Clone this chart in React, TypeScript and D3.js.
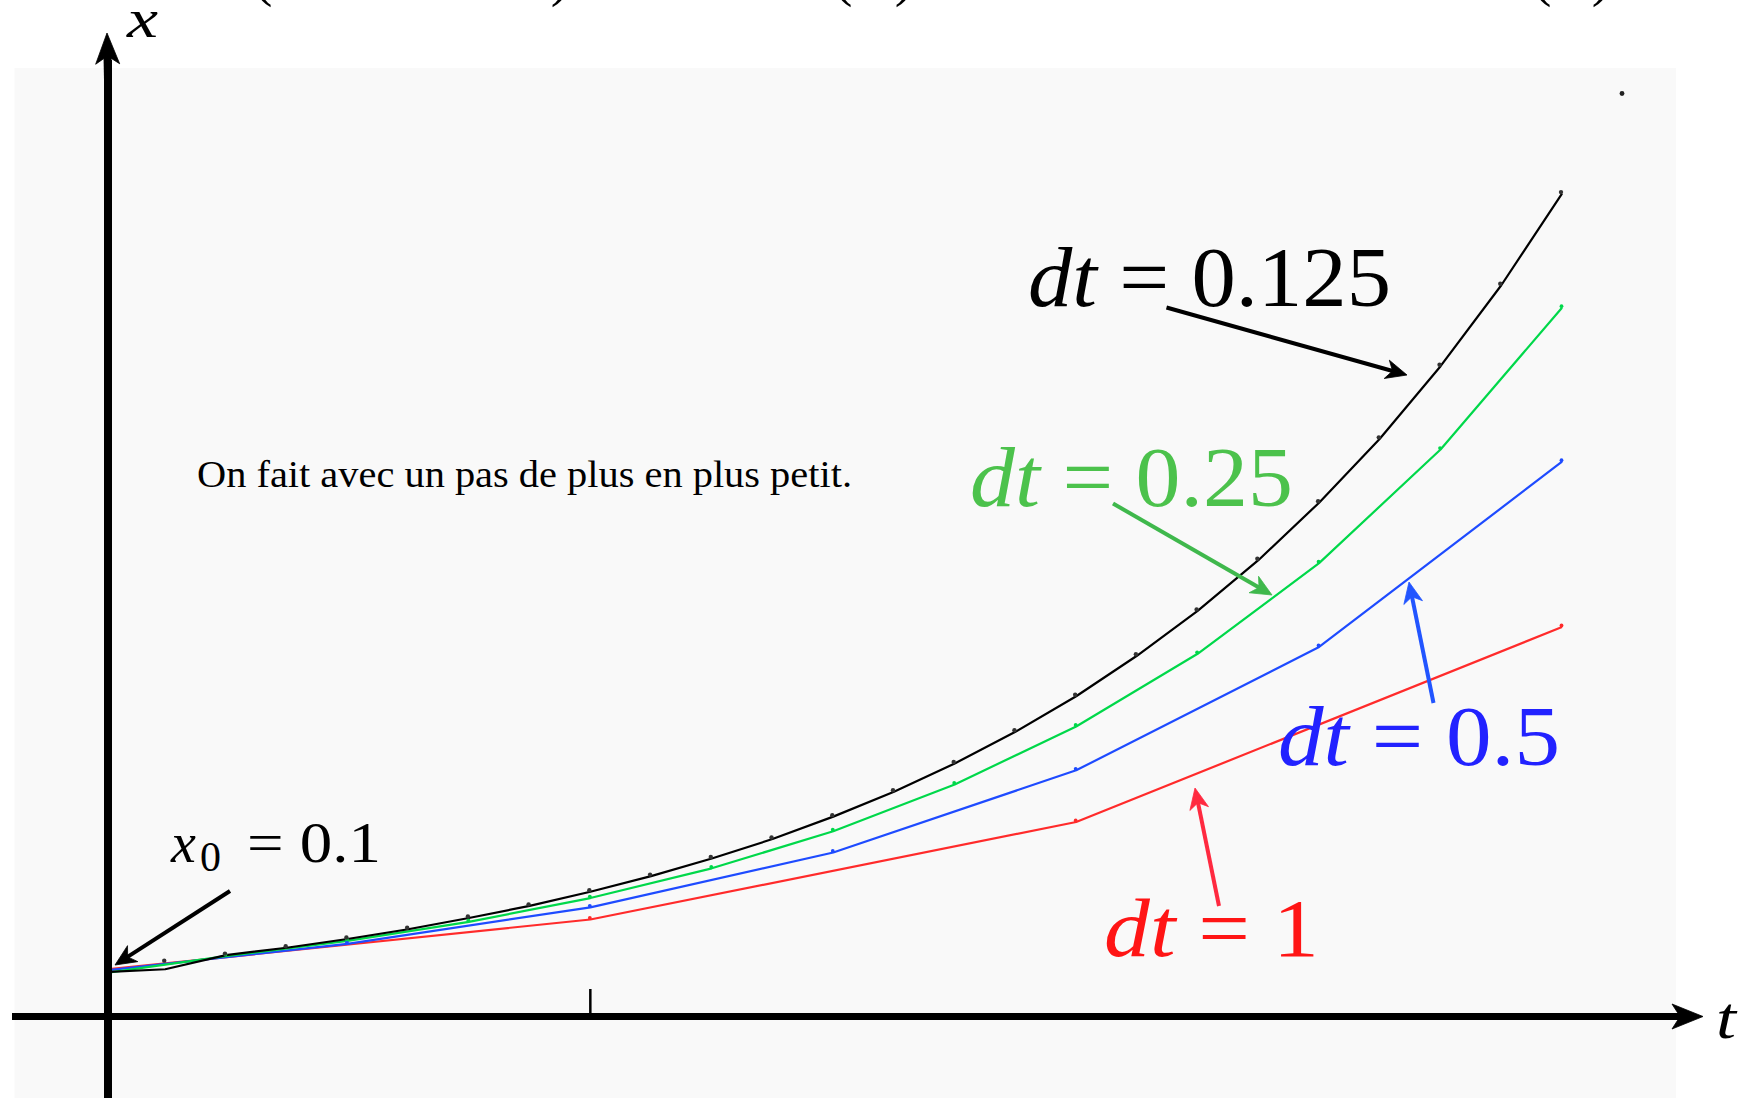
import React from 'react';
import * as d3 from 'd3';

// ---- data ----
const tBlack = [0, 0.125, 0.25, 0.375, 0.5, 0.625, 0.75, 0.875, 1, 1.125, 1.25, 1.375, 1.5, 1.625, 1.75, 1.875, 2, 2.125, 2.25, 2.375, 2.5, 2.625, 2.75, 2.875, 3];
const xBlackDots = [0.1, 0.1125, 0.127, 0.142, 0.16, 0.18, 0.203, 0.228, 0.257, 0.289, 0.325, 0.365, 0.411, 0.462, 0.52, 0.585, 0.658, 0.741, 0.833, 0.937, 1.055, 1.186, 1.335, 1.501, 1.689];
const xBlackLine = [0.092, 0.098, 0.127, 0.142, 0.16, 0.18, 0.203, 0.228, 0.257, 0.289, 0.325, 0.365, 0.411, 0.462, 0.52, 0.585, 0.658, 0.741, 0.833, 0.937, 1.055, 1.186, 1.335, 1.501, 1.689];
const tGreen = [0, 0.25, 0.5, 0.75, 1, 1.25, 1.5, 1.75, 2, 2.25, 2.5, 2.75, 3];
const xGreen = [0.09, 0.125, 0.156, 0.195, 0.244, 0.305, 0.381, 0.477, 0.596, 0.745, 0.931, 1.164, 1.455];
const tBlue = [0, 0.5, 1, 1.5, 2, 2.5, 3];
const xBlue = [0.095, 0.15, 0.225, 0.3375, 0.506, 0.759, 1.139];
const tRed = [0, 1, 2, 3];
const xRed = [0.097, 0.2, 0.4, 0.8];
const tTicks = [1];

const W = 1742;
const H = 1098;
const FONT = '"Liberation Serif", "Times New Roman", serif';

const xs = d3.scaleLinear().domain([0, 3]).range([104.5, 1562]);
const ys = d3.scaleLinear().domain([0, 1]).range([1017, 529.5]);

const line = d3
  .line<[number, number]>()
  .x((d) => xs(d[0]))
  .y((d) => ys(d[1]));

function zip(a: number[], b: number[]): [number, number][] {
  return a.map((v, i) => [v, b[i]] as [number, number]);
}

type ArrowProps = {
  x1: number; y1: number; x2: number; y2: number;
  color: string; width?: number; len?: number; half?: number; notch?: number;
};

function Arrow({ x1, y1, x2, y2, color, width = 4, len = 21, half = 9.5, notch = 6 }: ArrowProps) {
  const dx = x2 - x1;
  const dy = y2 - y1;
  const d = Math.hypot(dx, dy);
  const ux = dx / d;
  const uy = dy / d;
  const nx = -uy;
  const ny = ux;
  const bx = x2 - ux * len;
  const by = y2 - uy * len;
  const mx = x2 - ux * (len - notch);
  const my = y2 - uy * (len - notch);
  const head = `M${x2},${y2} L${bx + nx * half},${by + ny * half} L${mx},${my} L${bx - nx * half},${by - ny * half} Z`;
  return (
    <g>
      <line x1={x1} y1={y1} x2={mx + ux * 1} y2={my + uy * 1} stroke={color} strokeWidth={width} />
      <path d={head} fill={color} stroke={color} strokeWidth={0.8} strokeLinejoin="miter" />
    </g>
  );
}

export default function App() {
  React.useEffect(() => {
    document.body.style.margin = '0';
    document.body.style.overflow = 'hidden';
  }, []);

  const series = [
    { t: tRed, x: xRed, color: '#ff2b2b', dot: '#ff2b2b' },
    { t: tBlue, x: xBlue, color: '#1e4bff', dot: '#1e4bff' },
    { t: tGreen, x: xGreen, color: '#00d84a', dot: '#00d84a' },
  ];

  const axisX = 108;
  const axisY = 1016.5;
  const parens = [
    { ch: '(', x: 263 },
    { ch: ')', x: 560 },
    { ch: '(', x: 843 },
    { ch: ')', x: 904 },
    { ch: '(', x: 1542 },
    { ch: ')', x: 1601 },
  ];

  return (
    <svg width={W} height={H} viewBox={`0 0 ${W} ${H}`} style={{ display: 'block', position: 'absolute', left: 0, top: 0 }} fontFamily={FONT}>
      <rect x={0} y={0} width={W} height={H} fill="#ffffff" />
      <rect x={14.5} y={68} width={1676 - 14.5} height={H - 68} fill="#f9f9f9" />

      {/* cut-off formula fragments at the top (as in the reference) */}
      {parens.map((p, i) => (
        <text key={i} x={p.x} y={-5} fontSize={56} textAnchor="middle" fill="#000">{p.ch}</text>
      ))}

      {/* curves */}
      {series.map((s, i) => (
        <path key={i} d={line(zip(s.t, s.x)) || ''} fill="none" stroke={s.color} strokeWidth={2.2} strokeLinejoin="round" />
      ))}
      <path d={line(zip(tBlack, xBlackLine)) || ''} fill="none" stroke="#000" strokeWidth={2.2} strokeLinejoin="round" />

      {/* point markers */}
      {series.map((s, i) => (
        <g key={'d' + i}>
          {s.t.slice(1).map((t, j) => (
            <circle key={j} cx={xs(t) - 0.5} cy={ys(s.x[j + 1]) - 1.5} r={1.9} fill={s.dot} />
          ))}
        </g>
      ))}
      {tBlack.slice(1).map((t, j) => (
        <circle key={'b' + j} cx={xs(t) - 1} cy={ys(xBlackDots[j + 1]) - 1.5} r={2.2} fill="#333" />
      ))}
      <circle cx={1622} cy={93.5} r={2.4} fill="#222" />

      {/* ticks */}
      {tTicks.map((t) => (
        <line key={t} x1={xs(t)} x2={xs(t)} y1={989} y2={axisY} stroke="#000" strokeWidth={2.5} />
      ))}

      {/* axes */}
      <line x1={12} y1={axisY} x2={1680} y2={axisY} stroke="#000" strokeWidth={7} />
      <Arrow x1={1660} y1={axisY} x2={1703} y2={axisY} color="#000" width={7} len={31} half={12.5} notch={8} />
      <line x1={axisX} y1={H} x2={axisX} y2={60} stroke="#000" strokeWidth={8} />
      <Arrow x1={axisX} y1={80} x2={axisX - 1} y2={33} color="#000" width={8} len={31} half={12} notch={8} />
      <text x={127} y={37} fontSize={54} fontStyle="italic" textLength={31} lengthAdjust="spacingAndGlyphs">x</text>
      <text x={1716} y={1038} fontSize={60} fontStyle="italic" textLength={20} lengthAdjust="spacingAndGlyphs">t</text>

      {/* annotation text */}
      <text x={197} y={486.6} fontSize={37} fill="#000" textLength={655} lengthAdjust="spacingAndGlyphs">On fait avec un pas de plus en plus petit.</text>

      {/* x0 label */}
      <text x={171} y={861.5} fontSize={56} fill="#000">
        <tspan fontStyle="italic">x</tspan>
        <tspan x={200} dy={9} fontSize={42}>0</tspan>
      </text>
      <text x={247} y={861.5} fontSize={56} fill="#000" textLength={134} lengthAdjust="spacingAndGlyphs">= 0.1</text>
      <Arrow x1={230} y1={891} x2={115} y2={965} color="#000" />

      {/* dt labels */}
      <text x={1028} y={305.5} fontSize={84} fill="#000" textLength={363} lengthAdjust="spacingAndGlyphs">
        <tspan fontStyle="italic">dt</tspan>
        <tspan> = 0.125</tspan>
      </text>
      <Arrow x1={1166.5} y1={307.5} x2={1407} y2={375} color="#000" />

      <text x={970} y={506} fontSize={84} fill="#4cc24c" textLength={323} lengthAdjust="spacingAndGlyphs">
        <tspan fontStyle="italic">dt</tspan>
        <tspan> = 0.25</tspan>
      </text>
      <Arrow x1={1113} y1={503.5} x2={1272} y2={595} color="#3fb84c" />

      <text x={1278} y={765} fontSize={84} fill="#2222ff" textLength={282} lengthAdjust="spacingAndGlyphs">
        <tspan fontStyle="italic">dt</tspan>
        <tspan> = 0.5</tspan>
      </text>
      <Arrow x1={1433.5} y1={703} x2={1409} y2={582} color="#2255ff" />

      <text x={1104} y={955.5} fontSize={82} fill="#ff1515" textLength={215} lengthAdjust="spacingAndGlyphs">
        <tspan fontStyle="italic">dt</tspan>
        <tspan> = 1</tspan>
      </text>
      <Arrow x1={1219} y1={906} x2={1195} y2={788} color="#ff2a40" />
    </svg>
  );
}
